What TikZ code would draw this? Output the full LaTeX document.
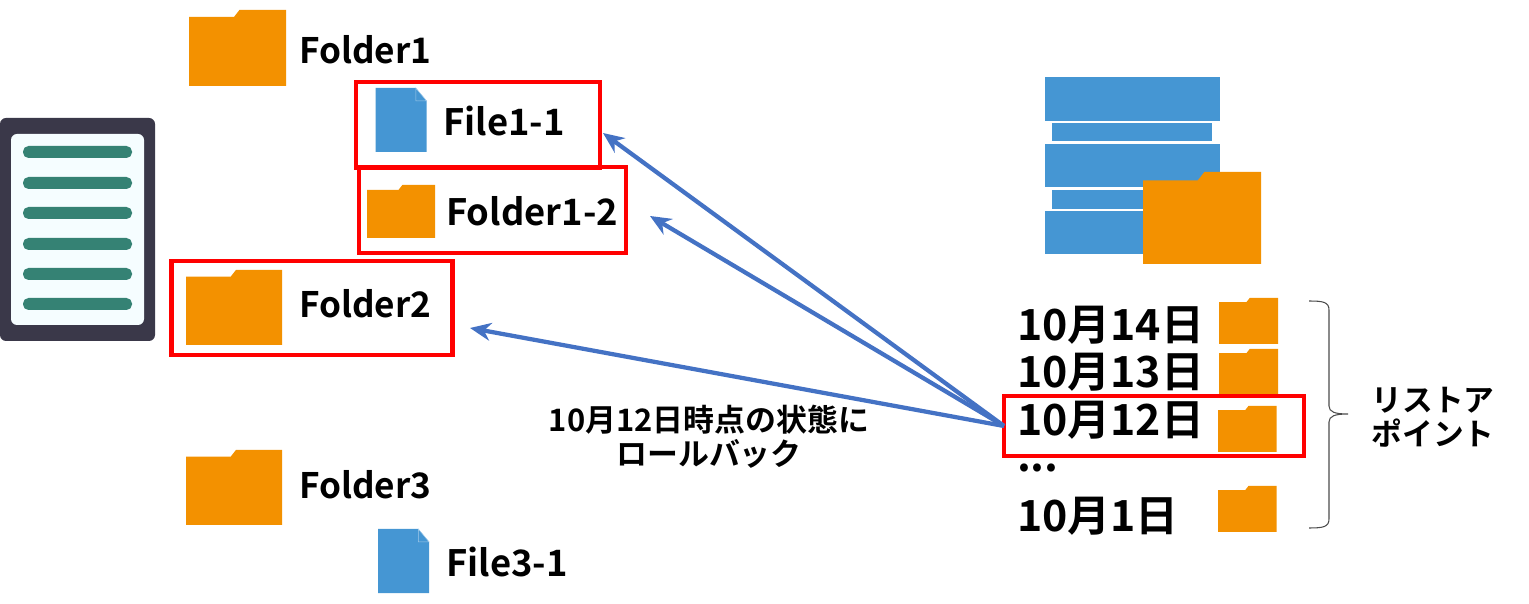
\documentclass[tikz,border=0pt]{standalone}
\usepackage{fontspec}
\setmainfont{Noto Sans CJK JP}[BoldFont={Noto Sans CJK JP Bold}]
\usepackage{xcolor}
\definecolor{folderorange}{HTML}{F39100}
\definecolor{fileblue}{HTML}{4596D3}
\definecolor{tabletdark}{HTML}{3A3849}
\definecolor{screenpale}{HTML}{F5FDFF}
\definecolor{bargreen}{HTML}{358274}
\definecolor{arrowblue}{HTML}{4472C4}
\usepackage{tikz}
\usetikzlibrary{arrows.meta,positioning}
\newcommand{\foldericon}[4]{%
  \fill[folderorange] (#1,{#2+0.09*#4}) -- ({#1+0.465*#3},{#2+0.09*#4}) -- ({#1+0.52*#3},#2)
    -- ({#1+#3},#2) -- ({#1+#3},{#2+#4}) -- (#1,{#2+#4}) -- cycle;}
\newcommand{\fileicon}[4]{%
  \fill[fileblue] (#1,#2) -- ({#1+0.79*#3},#2) -- ({#1+#3},{#2+0.2*#4})
    -- ({#1+#3},{#2+#4}) -- (#1,{#2+#4}) -- cycle;
  \draw[fileblue!50, line width=0.3pt] ({#1+0.79*#3},#2) -- ({#1+0.79*#3},{#2+0.2*#4}) -- ({#1+#3},{#2+0.2*#4}) -- cycle;}
\begin{document}
\begin{tikzpicture}[
  x=0.02cm, y=-0.02cm,
  tree/.style={anchor=west, inner sep=0pt, font=\fontsize{20}{24}\selectfont\bfseries},
  treewide/.style={tree, font=\fontsize{20.7}{24}\selectfont\bfseries},
  redbox/.style={draw=red, line width=0.09cm, outer sep=0pt, inner sep=0pt},
  datelbl/.style={inner sep=0pt, minimum height=0.8cm, text width=3.8cm, align=left,
                  font=\fontsize{24.4}{28}\selectfont\bfseries},
  note/.style={align=center, inner sep=0pt, font=\fontsize{17.6}{19.4}\selectfont\bfseries},
  side/.style={align=center, inner sep=0pt, font=\fontsize{17.5}{19.4}\selectfont\bfseries},
  arr/.style={-{Stealth[length=4.2mm, width=3.6mm]}, line width=0.085cm, draw=arrowblue},
  bar/.style={fill=bargreen, rounded corners=0.11cm},
  disk/.style={fill=fileblue}
]
\useasboundingbox (0,0) rectangle (1529,604);

\fill[tabletdark, rounded corners=0.12cm] (0,118) rectangle (155,341);
\fill[screenpale, rounded corners=0.12cm] (11,134) rectangle (144,325);
\foreach \y in {152,183,213,244,274,304}
  \fill[bar] (23,\y-6) rectangle (132,\y+6);

\foldericon{189}{10}{97}{76}
\node[tree] (folder1) at (299,50) {Folder1};
\fileicon{375.5}{88}{51}{64}
\node[treewide] (file11) at (443,121) {File1-1};
\foldericon{367}{185}{68}{53}
\node[treewide] (folder12) at (446,211) {Folder1-2};
\foldericon{186}{270}{96}{75}
\node[tree] (folder2) at (299,304) {Folder2};
\foldericon{186}{450}{96}{75}
\node[tree] (folder3) at (299,485) {Folder3};
\fileicon{378}{529}{51}{64}
\node[treewide] (file31) at (446,562) {File3-1};

\node[redbox, minimum width=4.88cm, minimum height=1.72cm] (boxfile) at (478,125) {};
\node[redbox, minimum width=5.34cm, minimum height=1.72cm] (boxfolder) at (492.5,210) {};
\node[redbox, minimum width=5.63cm, minimum height=1.88cm] (boxtop) at (312,308) {};

\fill[disk] (1045,77) rectangle (1220,121);
\fill[disk] (1052,123) rectangle (1212,141);
\fill[disk] (1045,144) rectangle (1220,187);
\fill[disk] (1052,190) rectangle (1212,209);
\fill[disk] (1045,211) rectangle (1220,254);
\foldericon{1143}{172}{118}{92}

\node[datelbl] (d14) at (1112,325) {10月14日};
\node[datelbl, below=0.14cm of d14] (d13) {10月13日};
\node[datelbl, below=0.14cm of d13] (d12) {10月12日};
\node[datelbl, below=0.14cm of d12] (dots) {...};
\node[datelbl, below=0.14cm of dots] (d01) {10月1日};
\foldericon{1219}{298}{59}{46}
\foldericon{1219}{349}{59}{46}
\foldericon{1218}{406}{58.5}{46}
\foldericon{1218}{486}{58.5}{46}
\node[redbox, minimum width=6cm, minimum height=1.2cm] (boxdate) at (1154,426) {};

\draw[black!70, line width=0.6pt] (1309,301) .. controls (1323,301) and (1329,302) .. (1329,310)
  -- (1329,406) .. controls (1329,412) and (1335,414) .. (1348,414)
  .. controls (1335,414) and (1329,416) .. (1329,422)
  -- (1329,519) .. controls (1329,527) and (1323,528) .. (1309,528);
\node[side] (restore) at (1433,417) {リストア\\ポイント};

\coordinate (tipfile) at (603,133);
\coordinate (tipfolder) at (650,216);
\coordinate (tiptop) at (470,328);
\draw[arr] (boxdate.west) -- (tipfile);
\draw[arr] (boxdate.west) -- (tipfolder);
\draw[arr] (boxdate.west) -- (tiptop);
\node[note] (rollback) at (709,437) {10月12日時点の状態に\\ロールバック};
\end{tikzpicture}
\end{document}
